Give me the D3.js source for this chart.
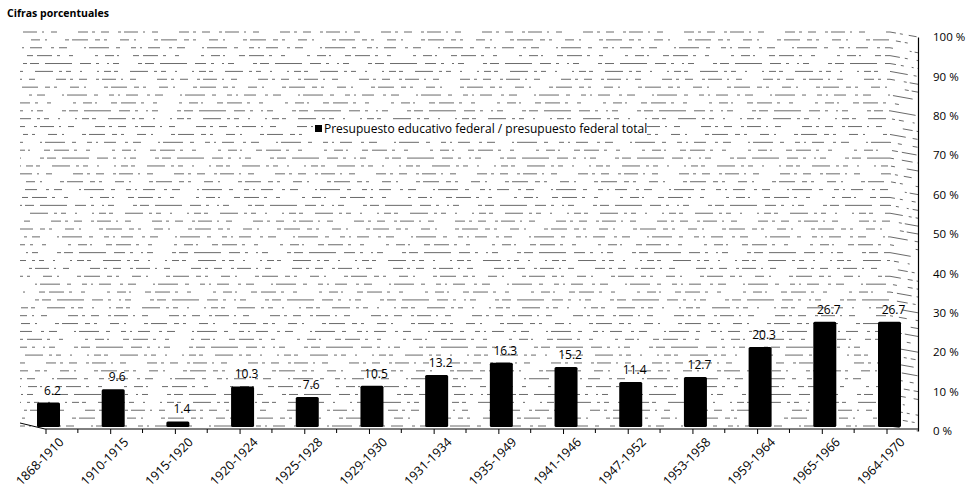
<!DOCTYPE html>
<html>
<head>
<meta charset="utf-8">
<script src="https://cdn.jsdelivr.net/npm/d3@7"></script>
<style>
  html, body { margin: 0; padding: 0; background: #fff; }
  svg { display: block; }
  text { font-family: "Open Sans", "DejaVu Sans", sans-serif; fill: #000; }
</style>
</head>
<body>
<svg id="chart" width="967" height="488"></svg>
<script>
// Federal education budget as a share of the total federal budget, by period
const periods = ["1868-1910", "1910-1915", "1915-1920", "1920-1924", "1925-1928", "1929-1930", "1931-1934",
                 "1935-1949", "1941-1946", "1947-1952", "1953-1958", "1959-1964", "1965-1966", "1964-1970"];
const shares = [6.2, 9.6, 1.4, 10.3, 7.6, 10.5, 13.2, 16.3, 15.2, 11.4, 12.7, 20.3, 26.7, 26.7];
const pctTicks = [0, 10, 20, 30, 40, 50, 60, 70, 80, 90, 100];
const seriesName = "Presupuesto educativo federal / presupuesto federal total";
const chartTitle = "Cifras porcentuales";

const svg = d3.select("#chart");

// front (axis) scale; the back wall sits a few pixels higher
const yFront = d3.scaleLinear().domain([0, 100]).range([431, 37]);
const wallShift = -5;
const yBack = v => yFront(v) + wallShift;
const wallLeft = 20, wallRight = 890, axisX = 918;

const x = d3.scalePoint().domain(periods).range([48.5, 889.5]);
const barW = 23;

// title
svg.append("text").attr("x", 7).attr("y", 17)
  .style("font-size", "10.5px").style("font-weight", "700")
  .text(chartTitle);

// minor gridlines every 2 %, broken dash patterns, folding down onto the side wall
const dashSets = [
  "5,4,2,6,12,9,3,5,8,17,2,3,20,7,4,11",
  "3,7,9,3,2,14,6,4,15,5,3,9,4,22",
  "11,5,3,8,2,4,6,19,4,3,9,6,27,8",
  "2,5,7,3,4,12,18,6,3,4,5,9,2,15",
  "8,9,3,3,14,5,2,7,6,21,10,4,3,6",
  "4,3,16,7,5,4,3,13,9,5,2,18"
];
const gridVals = d3.range(0, 101, 2);
svg.append("g").attr("class", "grid")
  .selectAll("path").data(gridVals).join("path")
  .attr("d", v => `M${wallLeft},${yBack(v)}L${wallRight},${yBack(v)}L${axisX},${yFront(v)}`)
  .attr("fill", "none")
  .attr("stroke", "#444")
  .attr("stroke-width", 0.8)
  .attr("stroke-dasharray", (v, i) => dashSets[(i * 5) % dashSets.length])
  .attr("stroke-dashoffset", (v, i) => (i * 37) % 61);

// floor edge
const floorY = yFront(0) - 3;
svg.append("path")
  .attr("d", `M${wallLeft},${yBack(0) - 3}L45,${floorY + 1}L${axisX},${floorY + 1}`)
  .attr("fill", "none").attr("stroke", "#000").attr("stroke-width", 1);

// bars
svg.append("g").selectAll("rect").data(shares).join("rect")
  .attr("x", (d, i) => x(periods[i]) - barW / 2)
  .attr("y", d => yFront(d) - 4)
  .attr("width", barW)
  .attr("height", d => yFront(0) - yFront(d))
  .attr("rx", 1.5)
  .attr("fill", "#000");

// value labels
svg.append("g").selectAll("text").data(shares).join("text")
  .attr("x", (d, i) => x(periods[i]) + 4)
  .attr("y", d => yFront(d) - 12)
  .attr("text-anchor", "middle")
  .style("font-size", "12px")
  .text(d => d3.format(".1f")(d));

// category axis
const xAxis = d3.axisBottom(x).tickSize(5).tickSizeOuter(0).tickFormat("");
const gx = svg.append("g").attr("transform", `translate(-3,${floorY + 1})`).call(xAxis);
gx.select(".domain").remove();
gx.selectAll(".tick line").attr("stroke", "#000");
// intermediate ticks between categories
const step = x.step();
gx.append("g").selectAll("line").data(periods.slice(0, -1)).join("line")
  .attr("x1", d => x(d) + step / 2).attr("x2", d => x(d) + step / 2)
  .attr("y1", 0).attr("y2", 4).attr("stroke", "#000");

svg.append("g").selectAll("text").data(periods).join("text")
  .attr("transform", d => `translate(${x(d) + 16},${floorY + 15}) rotate(-45)`)
  .attr("text-anchor", "end")
  .style("font-size", "12.5px")
  .text(d => d);

// percentage axis on the right
const yAxis = d3.axisRight(yFront).tickValues(pctTicks).tickSize(0).tickPadding(15)
  .tickFormat(d => d + " %");
const gy = svg.append("g").attr("transform", `translate(${axisX},0)`).call(yAxis);
gy.select(".domain").attr("stroke", "#000").attr("stroke-width", 1.2);
gy.selectAll(".tick text").style("font-size", "11.5px")
  .style("font-family", "'Open Sans', sans-serif").attr("fill", "#000");

// legend
const legY = 129;
const leg = svg.append("g");
leg.append("rect").attr("x", 313).attr("y", legY - 7).attr("width", 334).attr("height", 13).attr("fill", "#fff");
leg.append("rect").attr("x", 315).attr("y", legY - 4).attr("width", 7).attr("height", 7).attr("fill", "#000");
leg.append("text").attr("x", 324).attr("y", legY + 4)
  .style("font-size", "12px")
  .text(seriesName);
</script>
</body>
</html>
